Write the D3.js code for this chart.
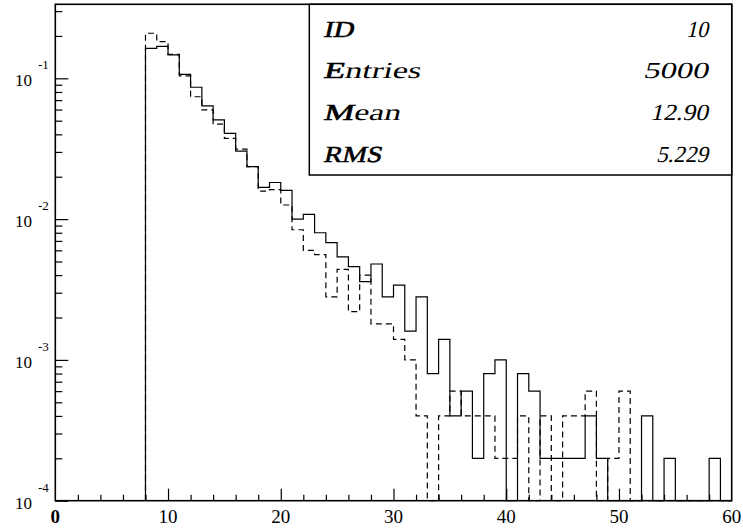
<!DOCTYPE html>
<html>
<head>
<meta charset="utf-8">
<script src="https://cdn.jsdelivr.net/npm/d3@7"></script>
</head>
<body style="margin:0;padding:0;background:#fff">
<script>
// Histogram ID 10: bins of width 1 starting at x = 8, contents normalised by the entry count
const binStart = 8;
const binWidth = 1;
const entries = 5000;

// bin contents (counts) for bins 8..59
const solidCounts = [
  817, 844, 733, 533, 432, 319, 253, 203, 152, 118,
  84, 91, 80, 50, 54, 40, 34, 27, 23, 18,
  24, 14, 17, 8, 14, 4, 7, 2, 3, 1,
  4, 5, 0, 4, 3, 1, 1, 1, 1, 2,
  1, 0, 0, 0, 2, 0, 1, 0, 0, 0,
  1, 0
];
const dashedCounts = [
  1045, 910, 740, 521, 370, 298, 236, 187, 157, 118,
  79, 81, 63, 42, 30, 28, 14, 22, 11, 20,
  9, 9, 7, 5, 2, 0, 2, 3, 2, 2,
  2, 1, 1, 2, 0, 2, 0, 2, 2, 3,
  0, 1, 3, 0, 0, 0, 0, 0, 0, 0,
  0, 0
];

const xTickLabels = ["0", "10", "20", "30", "40", "50", "60"];
const yDecades = [-4, -3, -2, -1];
const statNames = ["ID", "Entries", "Mean", "RMS"];
const statValues = ["10", "5000", "12.90", "5.229"];

// ---- layout ----
const W = 743, H = 529;
const frame = { left: 55.3, right: 731.7, top: 4.3, bottom: 500.7 };
const serif = '"Liberation Serif"';

const x = d3.scaleLinear().domain([0, 60]).range([frame.left, frame.right]);
const y = d3.scaleLog().domain([1e-4, 0.3355]).range([frame.bottom, frame.top]);

const svg = d3.select("body").append("svg")
  .attr("width", W).attr("height", H)
  .style("display", "block");

// step outline of a histogram; empty bins fall to the lower frame edge
function stepPath(counts) {
  const pts = [[x(binStart), frame.bottom]];
  counts.forEach((c, i) => {
    const v = c / entries;
    const yy = v > 0 ? y(v) : frame.bottom;
    pts.push([x(binStart + i * binWidth), yy], [x(binStart + (i + 1) * binWidth), yy]);
  });
  pts.push([x(binStart + counts.length * binWidth), frame.bottom]);
  return d3.line()(pts);
}

svg.append("path")
  .attr("d", stepPath(solidCounts))
  .attr("fill", "none").attr("stroke", "#000").attr("stroke-width", 1.2);

svg.append("path")
  .attr("d", stepPath(dashedCounts))
  .attr("fill", "none").attr("stroke", "#000").attr("stroke-width", 1.2)
  .attr("stroke-dasharray", "6,4");

// ---- y axis (log) ticks, pointing into the frame ----
const yMinor = [];
yDecades.forEach(d => {
  for (let m = 2; m <= 9; m++) {
    const v = m * Math.pow(10, d);
    if (v <= y.domain()[1]) yMinor.push(v);
  }
});
const yMajor = yDecades.map(d => Math.pow(10, d));

function tickAxis(axis, tx, ty) {
  const g = svg.append("g").attr("transform", `translate(${tx},${ty})`).call(axis);
  g.select(".domain").remove();
  g.selectAll(".tick line").attr("stroke", "#000").attr("stroke-width", 1.2);
  g.selectAll(".tick text").remove();
  return g;
}

tickAxis(d3.axisRight(y).tickValues(yMinor).tickSize(7).tickFormat(""), frame.left, 0);
tickAxis(d3.axisRight(y).tickValues(yMajor).tickSize(13).tickFormat(""), frame.left, 0);

// ---- x axis ticks, pointing up ----
const xMinor = d3.range(2, 60, 2).filter(v => v % 10 !== 0);
const xMajor = d3.range(10, 60, 10);
tickAxis(d3.axisTop(x).tickValues(xMinor).tickSize(6).tickFormat(""), 0, frame.bottom);
tickAxis(d3.axisTop(x).tickValues(xMajor).tickSize(12).tickFormat(""), 0, frame.bottom);

// x tick labels
svg.append("g").selectAll("text")
  .data(xTickLabels)
  .join("text")
  .attr("x", d => x(+d))
  .attr("y", 523)
  .attr("text-anchor", "middle")
  .style("font-family", serif)
  .style("font-size", "19px")
  .style("font-weight", d => d === "0" ? "bold" : "normal")
  .attr("fill", "#000")
  .text(d => d);

// y tick labels: 10 with a raised exponent
const yLab = svg.append("g").selectAll("g")
  .data(yDecades)
  .join("g");
yLab.append("text")
  .attr("x", 15)
  .attr("y", d => y(Math.pow(10, d)) + 8)
  .style("font-family", serif)
  .style("font-size", "17px")
  .attr("fill", "#000")
  .text("10");
yLab.append("text")
  .attr("x", 38)
  .attr("y", d => y(Math.pow(10, d)) - 9)
  .style("font-family", serif)
  .style("font-size", "13px")
  .attr("fill", "#000")
  .text(d => "-" + Math.abs(d));

// ---- frame ----
svg.append("rect")
  .attr("x", frame.left).attr("y", frame.top)
  .attr("width", frame.right - frame.left)
  .attr("height", frame.bottom - frame.top)
  .attr("fill", "none").attr("stroke", "#000").attr("stroke-width", 1.6);

// ---- statistics box ----
const box = { left: 309.3, top: frame.top, right: frame.right, bottom: 175 };
svg.append("rect")
  .attr("x", box.left).attr("y", box.top)
  .attr("width", box.right - box.left)
  .attr("height", box.bottom - box.top)
  .attr("fill", "#fff").attr("stroke", "#000").attr("stroke-width", 1.5);

const nameWidths = [30, 97, 77, 58];
const valueWidths = [22, 65, 58, 52];
const rowBase = 36.7, rowStep = 41.7;
const nameX = 323, valueRight = 708;
const slant = -13; // oblique slant applied to the upright serif face

// slanted serif text placed with its baseline start at (px, py)
function slantedText(px, py, width) {
  return svg.append("g")
    .attr("transform", `translate(${px},${py}) skewX(${slant})`)
    .append("text")
    .attr("x", 0).attr("y", 0)
    .style("font-family", serif)
    .style("font-size", "23px")
    .attr("fill", "#000")
    .attr("textLength", width)
    .attr("lengthAdjust", "spacingAndGlyphs");
}

statNames.forEach((name, i) => {
  const t = slantedText(nameX, rowBase + i * rowStep, nameWidths[i]);
  // capitals get a thin outline so they read slightly heavier
  const parts = name.match(/[A-Z]+|[a-z]+/g);
  parts.forEach(p => {
    const s = t.append("tspan").text(p);
    if (/[A-Z]/.test(p)) s.attr("stroke", "#000").attr("stroke-width", 0.6);
  });
});

statValues.forEach((val, i) => {
  slantedText(valueRight - valueWidths[i], rowBase + i * rowStep, valueWidths[i])
    .text(val);
});
</script>
</body>
</html>
